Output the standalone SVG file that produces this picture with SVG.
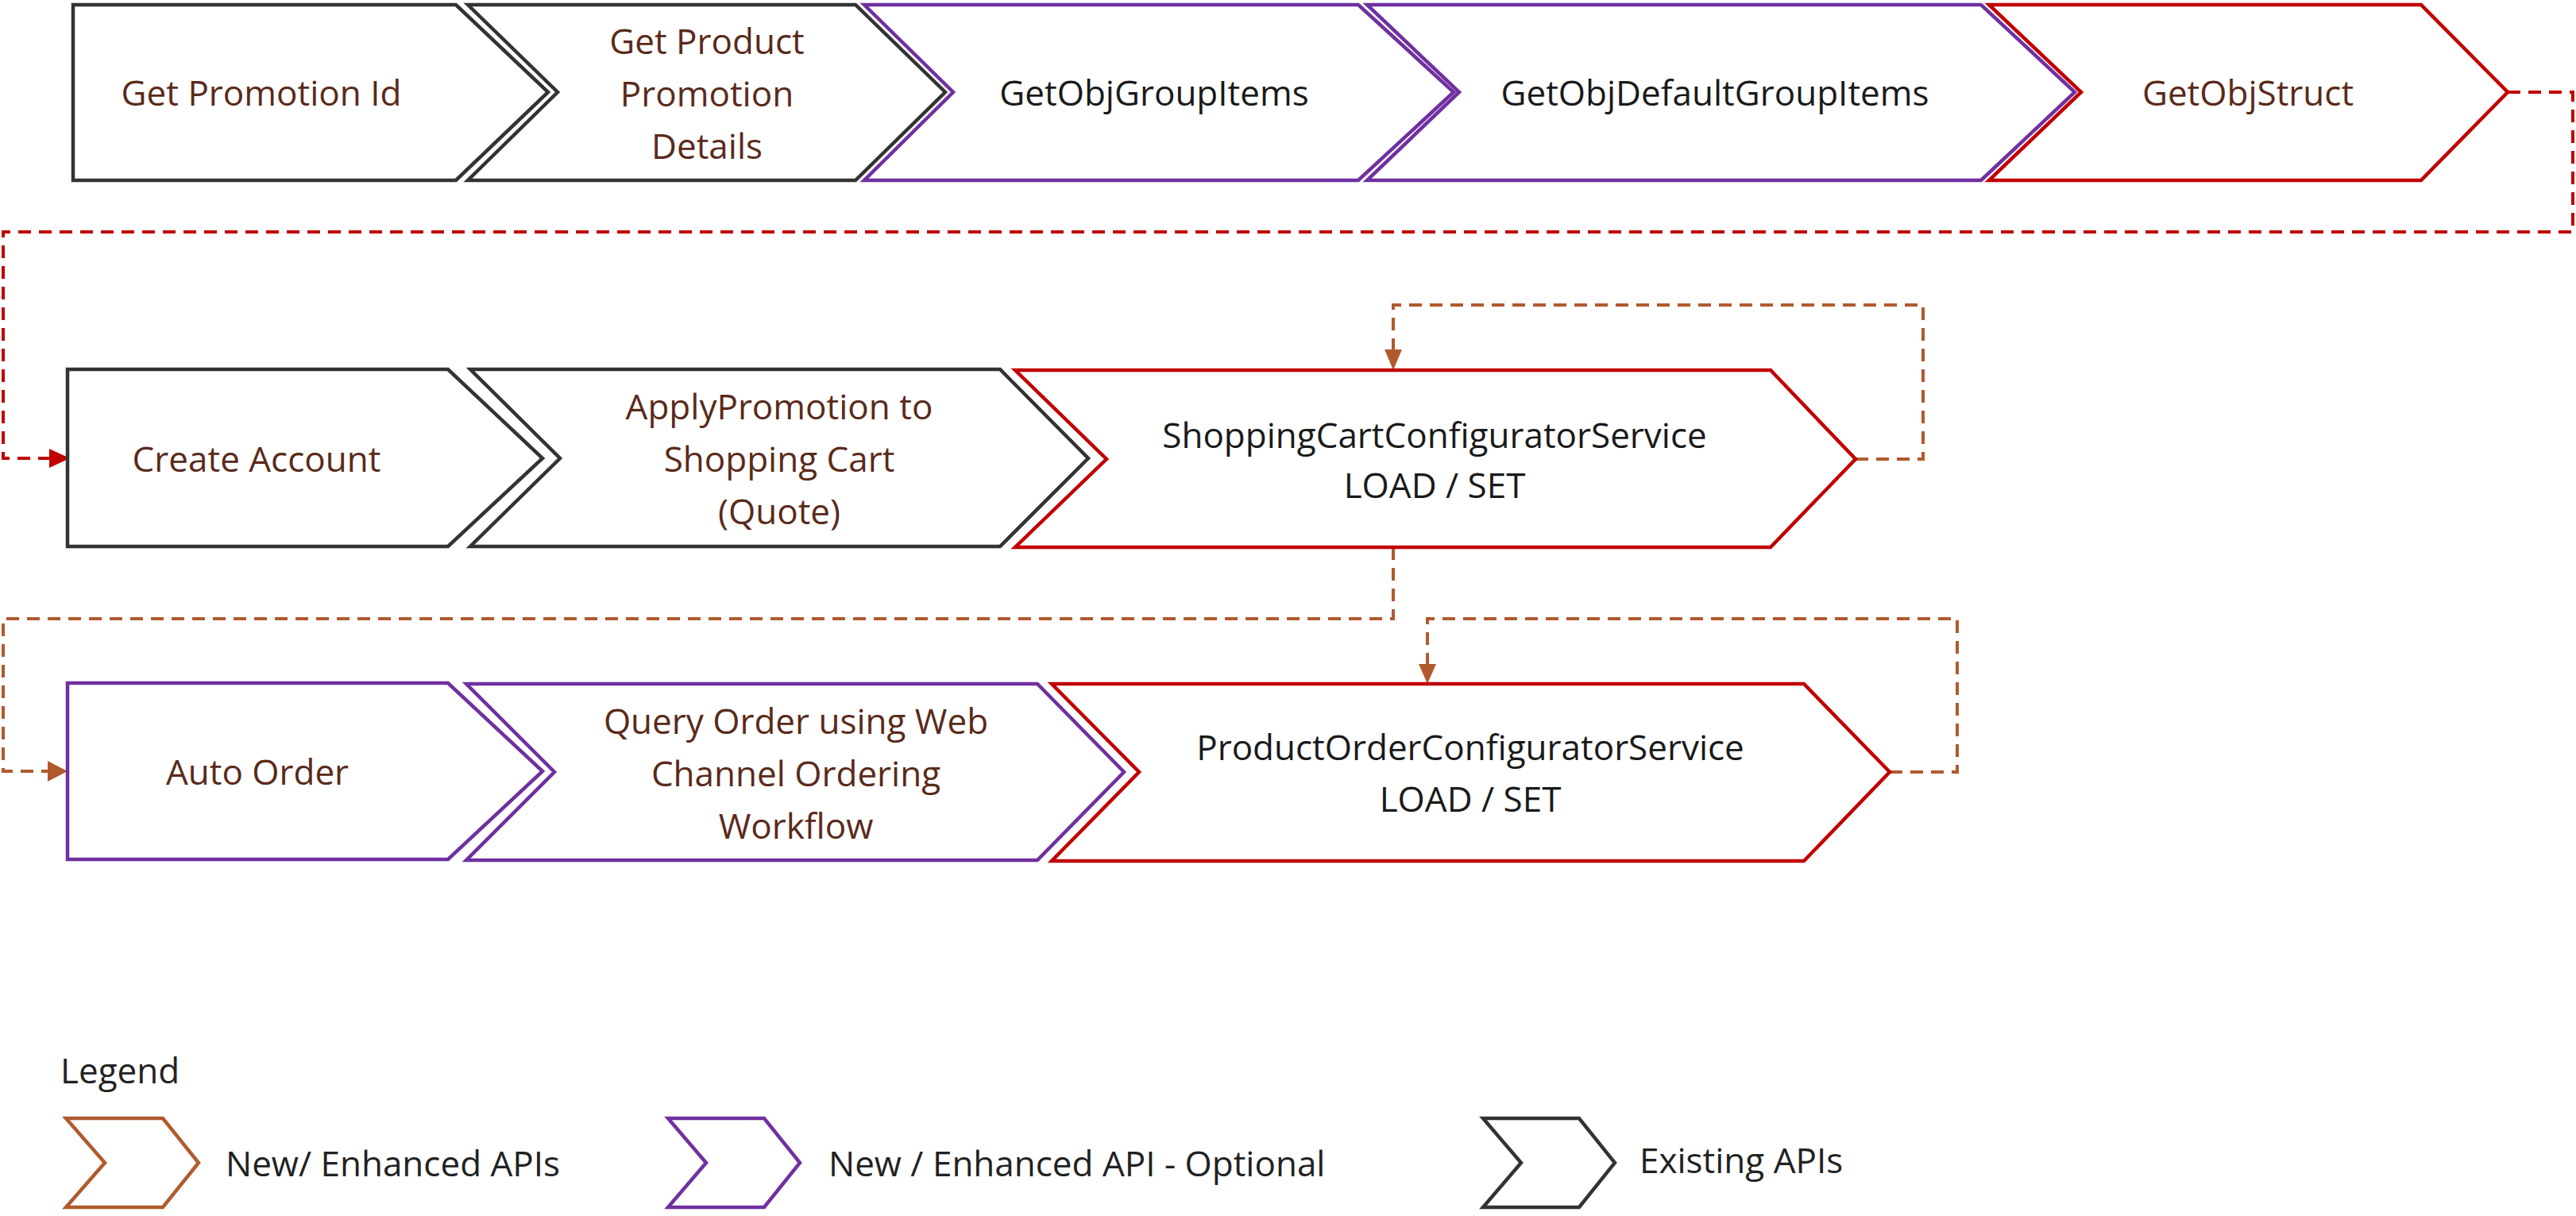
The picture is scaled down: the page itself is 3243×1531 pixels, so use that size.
<svg xmlns="http://www.w3.org/2000/svg" width="3243" height="1531" viewBox="0 0 3243 1531">
<style>
.s{fill:#fff;stroke-width:4.5;stroke-linejoin:miter}
.k{stroke:#333}.p{stroke:#7030a0}.r{stroke:#c00000}.b{stroke:#b05a2e}
text{font-family:"Open Sans","Liberation Sans",sans-serif;font-size:44px;text-anchor:middle;dominant-baseline:central}
.br{fill:#5a2a1a}.bk{fill:#1a1a1a}
.lg{text-anchor:start;fill:#222}
.dr{fill:none;stroke:#c00000;stroke-width:4;stroke-dasharray:16 10}
.db{fill:none;stroke:#b05a2e;stroke-width:4;stroke-dasharray:16 10}
</style>
<defs>
<marker id="ar" markerWidth="8" markerHeight="8" refX="7" refY="4" orient="auto" markerUnits="userSpaceOnUse" viewBox="0 0 8 8"><path d="M0,0L8,4L0,8z" fill="#c00000"/></marker>
<marker id="ab" markerWidth="8" markerHeight="8" refX="7" refY="4" orient="auto" viewBox="0 0 8 8" markerUnits="strokeWidth"><path d="M0,0L8,4L0,8z" fill="#b05a2e"/></marker>
</defs>
<g id="connectors">
<path class="dr" d="M3157,116H3239V292H4V577H80" marker-end="url(#ar)" style="stroke-dasharray:16 10"/>
<path d="M62,565L88,577L62,589z" fill="#c00000"/>
<path class="db" d="M2336,578H2421V384H1754V450"/>
<path d="M1743,440L1754,466L1765,440z" fill="#b05a2e"/>
<path class="db" d="M1754,689V779H4V971H66"/>
<path d="M60,958L85,971L60,984z" fill="#b05a2e"/>
<path class="db" d="M2379,972H2464V779H1797V846"/>
<path d="M1786,836L1797,861L1808,836z" fill="#b05a2e"/>
</g>
<g id="n1"><path class="s k" d="M92,6H574L690,116L574,227H92z"/><text class="br" x="329" y="116">Get Promotion Id</text></g>
<g id="n2"><path class="s k" d="M589,6H1077L1190,116L1077,227H589L702,116z"/><text class="br" x="890" y="51">Get Product</text><text class="br" x="890" y="117">Promotion</text><text class="br" x="890" y="183">Details</text></g>
<g id="n3"><path class="s p" d="M1088,6H1710L1830,116L1710,227H1088L1200,116z"/><text class="bk" x="1453" y="116">GetObjGroupItems</text></g>
<g id="n4"><path class="s p" d="M1721,6H2494L2612,116L2494,227H1721L1837,116z"/><text class="bk" x="2159" y="116">GetObjDefaultGroupItems</text></g>
<g id="n5"><path class="s r" d="M2504,6H3048L3157,116L3048,227H2504L2620,116z"/><text class="br" x="2830" y="116">GetObjStruct</text></g>
<g id="n6"><path class="s k" d="M85,465H564L683,577L564,688H85z"/><text class="br" x="323" y="577">Create Account</text></g>
<g id="n7"><path class="s k" d="M592,465H1259L1370,577L1259,688H592L705,577z"/><text class="br" x="981" y="511">ApplyPromotion to</text><text class="br" x="981" y="577">Shopping Cart</text><text class="br" x="981" y="643">(Quote)</text></g>
<g id="n8"><path class="s r" d="M1278,466H2229L2336,578L2229,689H1278L1393,578z"/><text class="bk" x="1806" y="547">ShoppingCartConfiguratorService</text><text class="bk" x="1806" y="610">LOAD / SET</text></g>
<g id="n9"><path class="s p" d="M85,860H564L683,971L564,1082H85z"/><text class="br" x="324" y="971">Auto Order</text></g>
<g id="n10"><path class="s p" d="M587,861H1306L1415,972L1306,1083H587L698,972z"/><text class="br" x="1002" y="907">Query Order using Web</text><text class="br" x="1002" y="973">Channel Ordering</text><text class="br" x="1002" y="1039">Workflow</text></g>
<g id="n11"><path class="s r" d="M1324,861H2271L2379,972L2271,1084H1324L1434,972z"/><text class="bk" x="1851" y="940">ProductOrderConfiguratorService</text><text class="bk" x="1851" y="1005">LOAD / SET</text></g>
<g id="legend">
<text class="lg" x="76" y="1347">Legend</text>
<path class="s b" d="M83,1408H205L250,1464L205,1520H83L132,1464z"/><text class="lg" x="284" y="1464">New/ Enhanced APIs</text>
<path class="s p" d="M841,1408H962L1007,1464L962,1520H841L889,1464z"/><text class="lg" x="1043" y="1464">New / Enhanced API - Optional</text>
<path class="s k" d="M1867,1408H1988L2033,1464L1988,1520H1867L1915,1464z"/><text class="lg" x="2064" y="1460">Existing APIs</text>
</g>
</svg>
